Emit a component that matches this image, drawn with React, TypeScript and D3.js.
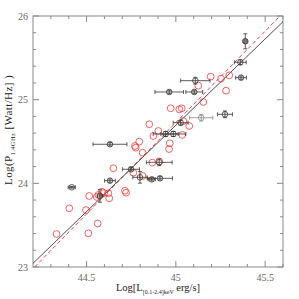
import React from "react";
import * as d3 from "d3";

// Black sample (with error bars)
const blackX = [45.389, 45.361, 45.365, 45.109, 44.963, 45.103, 45.275, 45.142, 45.027, 44.943, 44.986, 44.907, 44.749, 44.799, 44.865, 44.911, 44.417, 44.631, 44.575, 44.631];
const blackY = [25.698, 25.447, 25.263, 25.227, 25.092, 25.092, 24.825, 24.784, 24.725, 24.59, 24.59, 24.251, 24.168, 24.072, 24.048, 24.06, 23.953, 24.032, 23.849, 24.467];
const blackXErr = [0.0, 0.033, 0.03, 0.082, 0.08, 0.047, 0.042, 0.065, 0.042, 0.07, 0.07, 0.072, 0.047, 0.04, 0.02, 0.07, 0.02, 0.03, 0.015, 0.095];
const blackYErr = [0.09, 0.03, 0.02, 0.04, 0.02, 0.02, 0.04, 0.04, 0.03, 0.03, 0.03, 0.04, 0.02, 0.07, 0.02, 0.02, 0.01, 0.02, 0.075, 0.02];
const blackKind = ["filled", "open", "open", "open", "open", "open", "open", "gray", "open", "open", "open", "open", "open", "open", "open", "open", "open", "open", "open", "open"];

// Red sample (open circles)
const redX = [45.195, 45.253, 45.299, 45.126, 45.281, 45.154, 44.971, 45.019, 45.033, 45.042, 45.075, 44.851, 44.902, 44.874, 45.036, 44.966, 44.962, 44.795, 44.771, 44.775, 44.814, 44.868, 44.907, 44.762, 44.814, 44.715, 44.721, 44.65, 44.515, 44.403, 44.497, 44.332, 44.51, 44.562, 44.585, 44.622, 44.627, 44.566, 44.557, 44.598];
const redY = [25.275, 25.251, 25.291, 25.167, 25.107, 24.972, 24.897, 24.885, 24.897, 24.745, 24.685, 24.706, 24.626, 24.566, 24.578, 24.479, 24.41, 24.498, 24.446, 24.426, 24.366, 24.247, 24.261, 24.127, 24.088, 23.912, 23.888, 24.18, 23.849, 23.702, 23.681, 23.395, 23.403, 23.52, 23.9, 23.881, 23.821, 23.861, 23.837, 23.885];

// Fits: [x0, y0, slope]
const blackFit = [44.2, 23.044, 2.063];
const redFit = [44.2112, 23.004, 2.184];

const xDomain = [44.2, 45.6];
const yDomain = [23, 26];
const xMajor = [44.5, 45, 45.5];
const xMajorLabels = ["44.5", "45", "45.5"];
const yMajor = [23, 24, 25, 26];
const yMajorLabels = ["23", "24", "25", "26"];

export default function App() {
  const W = 299, H = 299;
  const L = 33, R = 283, T = 16, B = 267;
  const x = d3.scaleLinear().domain(xDomain).range([L, R]);
  const y = d3.scaleLinear().domain(yDomain).range([B, T]);

  const xMinor = d3.range(44.3, 45.6001, 0.1).filter((v) => !xMajor.some((m) => Math.abs(m - v) < 1e-6));
  const yMinor = d3.range(23.2, 26, 0.2).filter((v) => !yMajor.some((m) => Math.abs(m - v) < 1e-6));

  const axisCol = "#8a8a8a";
  const font = "'Liberation Serif', 'DejaVu Serif', serif";

  const fitLine = (f: number[]) => {
    const ys = (xv: number) => f[1] + f[2] * (xv - f[0]);
    let x0 = xDomain[0], x1 = xDomain[1];
    const xAtY = (yv: number) => f[0] + (yv - f[1]) / f[2];
    if (ys(x0) < yDomain[0]) x0 = xAtY(yDomain[0]);
    if (ys(x1) > yDomain[1]) x1 = xAtY(yDomain[1]);
    return d3.line<number>().x((v) => x(v)).y((v) => y(ys(v)))([x0, x1]) as string;
  };

  const cap = 2;
  return (
    <svg width={W} height={H} style={{ position: "absolute", left: 0, top: 0, background: "#fff" }}>
      <rect x={L} y={T} width={R - L} height={B - T} fill="none" stroke={axisCol} strokeWidth={1} />
      {xMajor.map((v, i) => (
        <g key={"xm" + i}>
          <line x1={x(v)} x2={x(v)} y1={B} y2={B - 6} stroke={axisCol} />
          <line x1={x(v)} x2={x(v)} y1={T} y2={T + 6} stroke={axisCol} />
          <text x={x(v)} y={281} textAnchor="middle" fontFamily={font} fontSize={10} fill="#666">{xMajorLabels[i]}</text>
        </g>
      ))}
      {xMinor.map((v, i) => (
        <g key={"xn" + i}>
          <line x1={x(v)} x2={x(v)} y1={B} y2={B - 3} stroke={axisCol} />
          <line x1={x(v)} x2={x(v)} y1={T} y2={T + 3} stroke={axisCol} />
        </g>
      ))}
      {yMajor.map((v, i) => (
        <g key={"ym" + i}>
          <line x1={L} x2={L + 6} y1={y(v)} y2={y(v)} stroke={axisCol} />
          <line x1={R} x2={R - 6} y1={y(v)} y2={y(v)} stroke={axisCol} />
          <text x={28} y={y(v) + 3.5} textAnchor="end" fontFamily={font} fontSize={10} fill="#666">{yMajorLabels[i]}</text>
        </g>
      ))}
      {yMinor.map((v, i) => (
        <g key={"yn" + i}>
          <line x1={L} x2={L + 3} y1={y(v)} y2={y(v)} stroke={axisCol} />
          <line x1={R} x2={R - 3} y1={y(v)} y2={y(v)} stroke={axisCol} />
        </g>
      ))}

      <path d={fitLine(redFit)} stroke="#f03030" strokeWidth={0.9} strokeDasharray="4,2.5" fill="none" />
      <path d={fitLine(blackFit)} stroke="#222" strokeWidth={0.8} fill="none" />

      {redX.map((v, i) => (
        <circle key={"r" + i} cx={x(v)} cy={y(redY[i])} r={3.4} fill="none" stroke="#f03a3a" strokeWidth={0.8} />
      ))}

      {blackX.map((v, i) => {
        const cx = x(v), cy = y(blackY[i]);
        const col = blackKind[i] === "gray" ? "#888" : "#333";
        const x0 = x(v - blackXErr[i]), x1 = x(v + blackXErr[i]);
        const y0 = y(blackY[i] - blackYErr[i]), y1 = y(blackY[i] + blackYErr[i]);
        return (
          <g key={"b" + i} stroke={col} strokeWidth={0.8}>
            {blackXErr[i] > 0 && (
              <>
                <line x1={x0} x2={x1} y1={cy} y2={cy} />
                <line x1={x0} x2={x0} y1={cy - cap} y2={cy + cap} />
                <line x1={x1} x2={x1} y1={cy - cap} y2={cy + cap} />
              </>
            )}
            <line x1={cx} x2={cx} y1={y0} y2={y1} />
            <line x1={cx - cap} x2={cx + cap} y1={y0} y2={y0} />
            <line x1={cx - cap} x2={cx + cap} y1={y1} y2={y1} />
            <circle cx={cx} cy={cy} r={2.8} fill={blackKind[i] === "filled" ? "#777" : "none"} />
          </g>
        );
      })}

      <text x={158} y={291} textAnchor="middle" fontFamily={font} fontSize={10.5} fill="#222">
        Log[L<tspan fontSize={6} dy={2.5}>[0.1-2.4]keV</tspan><tspan dy={-2.5}> erg/s]</tspan>
      </text>
      <text transform="translate(12,130) rotate(-90)" textAnchor="middle" fontFamily={font} fontSize={11} letterSpacing={0.4} fill="#222">
        Log(P<tspan fontSize={6.5} dy={2.5}>1.4GHz</tspan><tspan dy={-2.5}>  [Watt/Hz] )</tspan>
      </text>
    </svg>
  );
}
